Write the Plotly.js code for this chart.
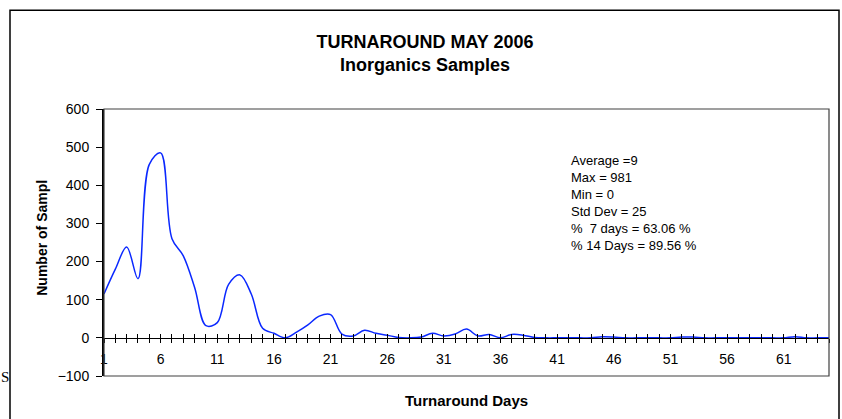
<!DOCTYPE html>
<html>
<head>
<meta charset="utf-8">
<script src="https://cdn.plot.ly/plotly-3.0.1.min.js"></script>
<style>
  html, body { margin: 0; padding: 0; background: #ffffff; }
  #chart { width: 842px; height: 419px; }
</style>
</head>
<body>
<div id="chart"></div>
<script>
// ---- data ----
const days = [];
for (let d = 1; d <= 65; d++) days.push(d);
const samples = [
  115, 180, 238, 155, 455, 485, 260, 215, 132, 32,
  40, 140, 165, 115, 25, 12, 0, 15, 34, 57,
  61, 10, 5, 20, 12, 7, 1, 0, 2, 12,
  5, 10, 23, 5, 9, 0, 9, 7, 1, 0,
  0, 0, 0, 0, 3, 2, 0, 0, 0, 0,
  0, 2, 2, 0, 0, 0, 0, 0, 0, 0,
  0, 3, 0, 0, 0
];
const statsLines = [
  "Average =9",
  "Max = 981",
  "Min = 0",
  "Std Dev = 25",
  "%  7 days = 63.06 %",
  "% 14 Days = 89.56 %"
];
const chartTitle = ["TURNAROUND MAY 2006", "Inorganics Samples"];
const xTitle = "Turnaround Days";
const yTitle = "Number of Sampl";
const edgeText = "S";

// ---- geometry ----
const W = 842, H = 419;
const L = 104, R = 829, T = 109, B = 376.5;
const pw = R - L, ph = B - T;
const px = v => (v - L) / pw;
const py = v => (B - v) / ph;

const font = "Liberation Sans, Arial, sans-serif";

const traces = [
  {
    x: days, y: samples, type: "scatter", mode: "lines",
    line: { color: "#0a28ff", width: 1.5, shape: "spline", smoothing: 1 },
    hoverinfo: "x+y", showlegend: false
  },
  { x: [], y: [], type: "scatter", mode: "lines", xaxis: "x2", yaxis: "y", showlegend: false, hoverinfo: "skip" }
];

const zeroPos = 100 / 700;

const layout = {
  width: W, height: H,
  margin: { l: L, r: W - R, t: T, b: H - B, pad: 0 },
  paper_bgcolor: "#ffffff",
  plot_bgcolor: "#ffffff",
  showlegend: false,
  font: { family: font, color: "#000000", size: 14 },
  title: {
    text: "<b>" + chartTitle.join("</b><br><b>") + "</b>",
    font: { family: font, size: 18, color: "#000000" },
    xref: "container", yref: "container",
    x: 425 / W, y: 1 - 47.5 / H, xanchor: "center", yanchor: "middle"
  },
  xaxis: {
    range: [1, 65], type: "linear",
    tick0: 1, dtick: 5,
    anchor: "free", position: zeroPos,
    showgrid: false, zeroline: false,
    showline: true, linecolor: "#000000", linewidth: 1.5,
    ticks: "outside", ticklen: 4, tickwidth: 1, tickcolor: "#000000",
    minor: { tick0: 1, dtick: 1, ticks: "outside", ticklen: 4, tickwidth: 1, tickcolor: "#000000", showgrid: false },
    tickfont: { family: font, size: 14, color: "#000000" },
    ticklabelstandoff: 4
  },
  xaxis2: {
    range: [1, 65], type: "linear", overlaying: "x",
    tick0: 1, dtick: 5,
    anchor: "free", position: zeroPos,
    showgrid: false, zeroline: false, showline: false,
    ticks: "inside", ticklen: 4, tickwidth: 1, tickcolor: "#000000",
    minor: { tick0: 1, dtick: 1, ticks: "inside", ticklen: 4, tickwidth: 1, tickcolor: "#000000", showgrid: false },
    showticklabels: false
  },
  yaxis: {
    range: [-100, 600], dtick: 100, tick0: 0,
    showgrid: false, zeroline: false,
    showline: true, linecolor: "#000000", linewidth: 2,
    ticks: "outside", ticklen: 6, tickwidth: 1, tickcolor: "#000000",
    tickfont: { family: font, size: 14, color: "#000000" },
    ticklabelstandoff: 4
  },
  shapes: [
    { type: "rect", xref: "paper", yref: "paper", x0: 0, x1: 1, y0: 0, y1: 1,
      line: { color: "#404040", width: 1.2 }, fillcolor: "rgba(0,0,0,0)", layer: "above" },
    { type: "rect", xref: "paper", yref: "paper", x0: px(10), x1: px(839), y0: py(430), y1: py(10),
      line: { color: "#000000", width: 1.5 }, fillcolor: "rgba(0,0,0,0)", layer: "above" }
  ],
  annotations: [
    { text: "<b>" + xTitle + "</b>", xref: "paper", yref: "paper", x: 0.5, y: py(401.5),
      xanchor: "center", yanchor: "middle", showarrow: false,
      font: { family: font, size: 15, color: "#000000" } },
    { text: "<b>" + yTitle + "</b>", xref: "paper", yref: "paper", x: px(42), y: py(238),
      xanchor: "center", yanchor: "middle", showarrow: false, textangle: -90,
      font: { family: font, size: 14, color: "#000000" } },
    { text: statsLines.join("<br>"), xref: "paper", yref: "paper", x: px(569), y: py(151),
      xanchor: "left", yanchor: "top", align: "left", showarrow: false,
      font: { family: font, size: 13, color: "#000000" } },
    { text: edgeText, xref: "paper", yref: "paper", x: px(0), y: py(378),
      xanchor: "left", yanchor: "middle", showarrow: false, borderpad: 0,
      font: { family: "Liberation Serif, Times New Roman, serif", size: 15, color: "#000000" } }
  ]
};

Plotly.newPlot("chart", traces, layout, { displayModeBar: false, staticPlot: true });
</script>
</body>
</html>
